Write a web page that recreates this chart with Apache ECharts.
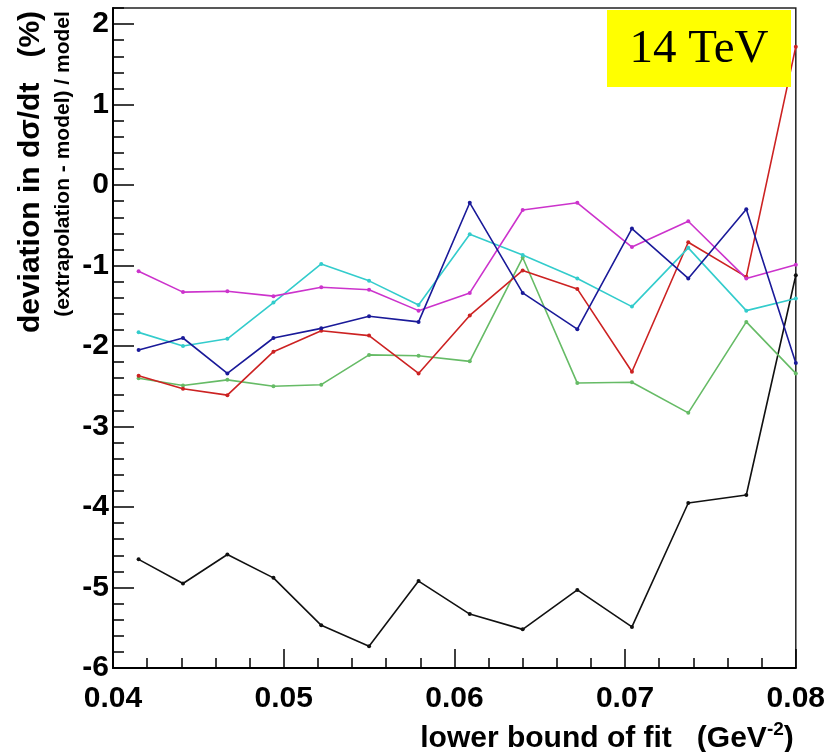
<!DOCTYPE html>
<html>
<head>
<meta charset="utf-8">
<script src="https://cdn.jsdelivr.net/npm/echarts@6/dist/echarts.min.js"></script>
<style>
  html, body { margin: 0; padding: 0; background: #ffffff; }
  #chart { width: 828px; height: 752px; }
</style>
</head>
<body>
<div id="chart"></div>
<script>
// lower bound of the fit range (GeV^-2)
const lowerBound = [0.0415, 0.0441, 0.0467, 0.0494, 0.0522, 0.0550, 0.0579, 0.0609, 0.0640, 0.0672, 0.0704, 0.0737, 0.0771, 0.0800];

// deviation in dsigma/dt (%) for each model
const devBlack   = [-4.65, -4.95, -4.59, -4.88, -5.47, -5.73, -4.92, -5.33, -5.52, -5.03, -5.49, -3.95, -3.85, -1.12];
const devRed     = [-2.37, -2.53, -2.61, -2.07, -1.81, -1.87, -2.34, -1.62, -1.06, -1.29, -2.32, -0.71, -1.14, 1.72];
const devGreen   = [-2.40, -2.49, -2.42, -2.50, -2.48, -2.11, -2.12, -2.19, -0.90, -2.46, -2.45, -2.83, -1.70, -2.34];
const devBlue    = [-2.05, -1.90, -2.34, -1.90, -1.78, -1.63, -1.70, -0.22, -1.34, -1.79, -0.54, -1.16, -0.30, -2.21];
const devCyan    = [-1.83, -2.00, -1.91, -1.46, -0.98, -1.19, -1.49, -0.61, -0.87, -1.16, -1.51, -0.78, -1.56, -1.41];
const devMagenta = [-1.07, -1.33, -1.32, -1.38, -1.27, -1.30, -1.56, -1.34, -0.31, -0.22, -0.77, -0.45, -1.16, -0.99];

const yTickValues = [-6, -5, -4, -3, -2, -1, 0, 1, 2];
const xTickValues = [0.04, 0.05, 0.06, 0.07, 0.08];

const seriesDefs = [
  { name: 'black',   color: '#111111', values: devBlack },
  { name: 'green',   color: '#66bb66', values: devGreen },
  { name: 'red',     color: '#cc2222', values: devRed },
  { name: 'cyan',    color: '#33cccc', values: devCyan },
  { name: 'magenta', color: '#cc33cc', values: devMagenta },
  { name: 'blue',    color: '#1a1a99', values: devBlue }
];

const FONT = '"Liberation Sans", Arial, Helvetica, sans-serif';

const chart = echarts.init(document.getElementById('chart'), null, { renderer: 'canvas' });

const option = {
  backgroundColor: '#ffffff',
  animation: false,
  grid: {
    left: 113, right: 31, top: 8, bottom: 84,
    show: true,
    borderColor: '#222222',
    borderWidth: 1.5,
    backgroundColor: 'transparent'
  },
  xAxis: {
    type: 'value',
    min: 0.04, max: 0.08, interval: 0.01,
    axisLine: { show: true, onZero: false, lineStyle: { color: '#000', width: 2 } },
    axisTick: { show: true, inside: true, length: 19, lineStyle: { color: '#000', width: 1.5 } },
    minorTick: { show: true, splitNumber: 5, length: 10, lineStyle: { color: '#000', width: 1.5 } },
    splitLine: { show: false },
    axisLabel: {
      margin: 16,
      color: '#000',
      fontFamily: FONT,
      fontWeight: 'bold',
      fontSize: 30,
      formatter: v => {
        const hit = xTickValues.find(t => Math.abs(t - v) < 1e-9);
        return hit === undefined ? '' : hit.toFixed(2);
      }
    }
  },
  yAxis: [
    {
      type: 'value',
      min: -6, max: 2.2, interval: 1,
      axisLine: { show: true, onZero: false, lineStyle: { color: '#000', width: 2 } },
      axisTick: { show: true, inside: true, length: 21, lineStyle: { color: '#000', width: 1.5 } },
      splitLine: { show: false },
      axisLabel: {
        margin: 4,
        color: '#000',
        fontFamily: FONT,
        fontWeight: 'bold',
        fontSize: 30,
        showMaxLabel: false,
        formatter: v => {
          const hit = yTickValues.find(t => Math.abs(t - v) < 1e-9);
          return hit === undefined ? '' : String(hit);
        }
      }
    },
    {
      // finer tick marks every 0.2
      type: 'value',
      min: -6, max: 2.2, interval: 0.2,
      position: 'left',
      axisLine: { show: false },
      axisTick: { show: true, inside: true, length: 11, lineStyle: { color: '#000', width: 1.5 } },
      splitLine: { show: false },
      axisLabel: { show: false }
    }
  ],
  series: seriesDefs.map(s => ({
    name: s.name,
    type: 'line',
    xAxisIndex: 0,
    yAxisIndex: 0,
    data: lowerBound.map((x, i) => [x, s.values[i]]),
    symbol: 'circle',
    symbolSize: 4,
    showSymbol: true,
    clip: true,
    lineStyle: { color: s.color, width: 1.6 },
    itemStyle: { color: s.color },
    emphasis: { disabled: true }
  })),
  graphic: [
    {
      type: 'rect',
      shape: { x: 607, y: 10, width: 184, height: 77 },
      style: { fill: '#ffff00' },
      z: 100
    },
    {
      type: 'text',
      x: 699, y: 50,
      style: {
        text: '14 TeV',
        font: '47px "Liberation Serif", "Times New Roman", serif',
        fill: '#000',
        align: 'center',
        verticalAlign: 'middle'
      },
      z: 101
    },
    {
      type: 'text',
      x: 31, y: 172,
      rotation: Math.PI / 2,
      style: {
        text: 'deviation in dσ/dt   (%)',
        font: 'bold 30px ' + FONT,
        fill: '#000',
        align: 'center',
        verticalAlign: 'middle'
      }
    },
    {
      type: 'text',
      x: 63, y: 164,
      rotation: Math.PI / 2,
      style: {
        text: '(extrapolation - model) / model',
        font: 'bold 21px ' + FONT,
        fill: '#000',
        align: 'center',
        verticalAlign: 'middle'
      }
    },
    {
      type: 'text',
      x: 607, y: 737,
      style: {
        text: '{m|lower bound of fit   (GeV}{s|-2}{m|)}',
        fill: '#000',
        align: 'center',
        verticalAlign: 'middle',
        rich: {
          m: { font: 'bold 30px ' + FONT, fill: '#000', lineHeight: 34, verticalAlign: 'bottom' },
          s: { font: 'bold 19px ' + FONT, fill: '#000', lineHeight: 34, verticalAlign: 'top', padding: [0, 0, 13, 0] }
        }
      }
    }
  ]
};

chart.setOption(option);
</script>
</body>
</html>
